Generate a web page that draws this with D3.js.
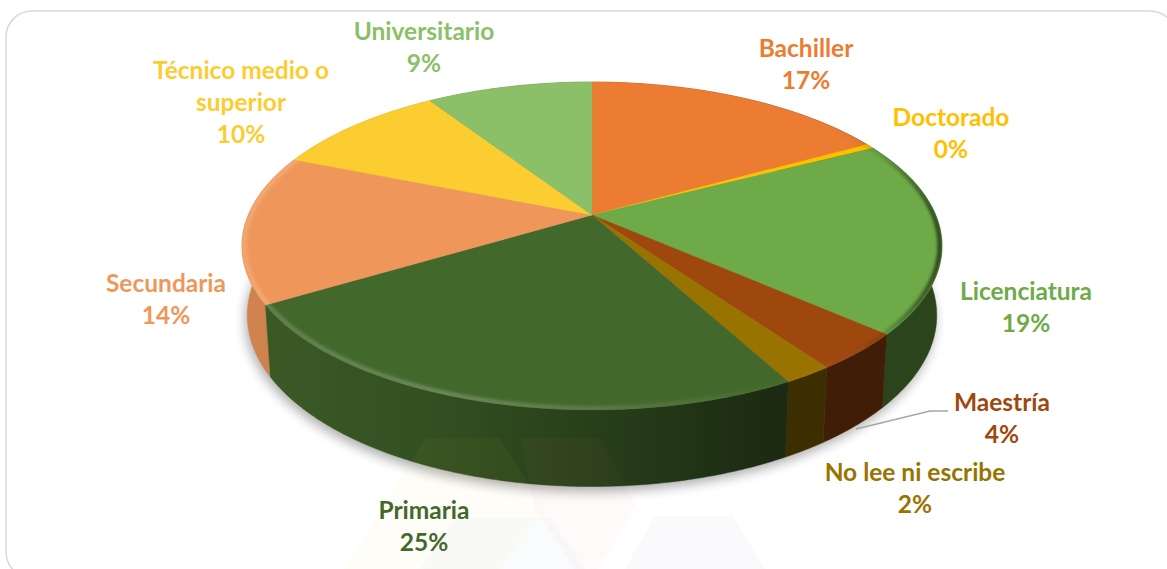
<!DOCTYPE html>
<html><head><meta charset="utf-8">
<script src="https://cdnjs.cloudflare.com/ajax/libs/d3/7.8.5/d3.min.js"></script>
<style>html,body{margin:0;padding:0;background:#fff;overflow:hidden}svg{display:block}text{font-family:Lato,"Open Sans",sans-serif;font-weight:700;font-size:24.5px;text-anchor:middle}</style>
</head><body><svg id="c" width="1167" height="569"></svg>
<script>
// data
const categories = ["Bachiller","Doctorado","Licenciatura","Maestría","No lee ni escribe","Primaria","Secundaria","Técnico medio o superior","Universitario"];
const sliceShares = [16.9,0.5,19.1,3.7,1.9,24.3,14.7,9.7,9.2];
const percentLabels = ["17%","0%","19%","4%","2%","25%","14%","10%","9%"];
const colors = ["#EB7C31","#FFC000","#6EAA47","#9E480E","#997300","#43682B","#EF975A","#FBCD30","#8BBF68"];
// layout
const labelLines = [["Bachiller"],["Doctorado"],["Licenciatura"],["Maestría"],["No lee ni escribe"],["Primaria"],["Secundaria"],["Técnico medio o","superior"],["Universitario"]];
const labelAnchors = [[806,57],[951,126],[1026,300],[1002,411],[915,481],[424,519],[166,292],[241,79],[424,40]];
const lineStep = 32;

const svg = d3.select("#c"), defs = svg.append("defs");
const cx=592, cy=215;
const k=-0.189, S=158.1, R=343.7;
function topPt(a,r=1){const x=r*Math.sin(a),y=-r*Math.cos(a),d=1+k*y;return [cx+R*x/d,cy+S*y/d];}
function botPt(a){const p=topPt(a);return [cx+(p[0]-cx)*0.985, cy+68+(p[1]-cy)*1.044];}
const TAU=Math.PI*2;
const pie=d3.pie().sort(null).value(d=>d)(sliceShares);
const steps=(a0,a1)=>{const n=Math.max(2,Math.ceil((a1-a0)/0.01));return d3.range(n+1).map(i=>a0+(a1-a0)*i/n);};
const line=d3.line();
const full=d3.range(0,TAU,0.01);

// filters
const fs=defs.append("filter").attr("id","shadow").attr("x","-10%").attr("y","-10%").attr("width","120%").attr("height","130%");
fs.append("feGaussianBlur").attr("stdDeviation",6);
const fb=defs.append("filter").attr("id","blur").attr("x","-5%").attr("y","-5%").attr("width","110%").attr("height","110%");
fb.append("feGaussianBlur").attr("stdDeviation",1.6);
defs.append("clipPath").attr("id","topClip").append("path").attr("d",line(full.map(a=>topPt(a)))+"Z");

// shade across the wall
const shade=[[245,.87],[300,.85],[450,.75],[600,.6],[780,.4],[942,.4]];
colors.forEach((c,i)=>{
  const g=defs.append("linearGradient").attr("id","w"+i).attr("gradientUnits","userSpaceOnUse").attr("x1",245).attr("x2",942).attr("y1",0).attr("y2",0);
  const rgb=d3.rgb(c);
  shade.forEach(([x,f])=>g.append("stop").attr("offset",(x-245)/697).attr("stop-color",d3.rgb(rgb.r*f,rgb.g*f,rgb.b*f).formatHex()));
});
const rim=defs.append("linearGradient").attr("id","rim").attr("gradientUnits","userSpaceOnUse").attr("x1",245).attr("x2",942).attr("y1",0).attr("y2",0);
[[245,"#fff",.16],[450,"#fff",.22],[640,"#fff",.1],[790,"#fff",0],[880,"#000",.1],[942,"#000",.6]].forEach(([x,c,o])=>rim.append("stop").attr("offset",(x-245)/697).attr("stop-color",c).attr("stop-opacity",o));

// frame
svg.append("rect").attr("x",6).attr("y",11).attr("width",1170).attr("height",567).attr("rx",26).attr("fill","#fff").attr("stroke","#d9d9d9").attr("stroke-width",1.5);

// shadow
svg.append("path").attr("d",line(full.map(a=>{const p=botPt(a);return [p[0]-2,p[1]+5];}))+"Z").attr("fill","#000").attr("opacity",.32).attr("filter","url(#shadow)");

// walls, back to front
const order=pie.map((d,i)=>i).sort((a,b)=>{const m=d=>-Math.cos((d.startAngle+d.endAngle)/2);return m(pie[a])-m(pie[b]);});
svg.append("g").selectAll("path").data(order).join("path")
 .attr("d",i=>{const A=steps(pie[i].startAngle,pie[i].endAngle);return line(A.map(a=>topPt(a)).concat(A.slice().reverse().map(botPt)))+"Z";})
 .attr("fill",i=>`url(#w${i})`).attr("stroke",i=>`url(#w${i})`).attr("stroke-width",.5);

// top faces
svg.append("g").selectAll("path").data(pie).join("path")
 .attr("d",d=>line([[cx,cy]].concat(steps(d.startAngle,d.endAngle).map(a=>topPt(a))))+"Z")
 .attr("fill",(d,i)=>colors[i]).attr("stroke",(d,i)=>colors[i]).attr("stroke-width",.4);

// bevel
svg.append("g").attr("clip-path","url(#topClip)").append("path")
 .attr("d",line(steps(0.62,5.1).map(a=>topPt(a,0.994))))
 .attr("fill","none").attr("stroke","url(#rim)").attr("stroke-width",5).attr("filter","url(#blur)");

// faint background marks
[["#f2c84b",[[425,438],[500,438],[545,510],[498,569],[345,569]]],
 ["#e8877a",[[520,438],[600,438],[636,505],[598,569],[575,569],[535,510]]],
 ["#7f9fd8",[[455,518],[550,518],[585,569],[420,569]]],
 ["#8a78c4",[[655,516],[733,516],[765,569],[625,569]]]].forEach(([c,p])=>{
   svg.append("path").attr("d",line(p)+"Z").attr("fill",c).attr("opacity",.04);
});

// leader
svg.append("path").attr("d",line([[856,429],[930,411],[948,411]])).attr("fill","none").attr("stroke","#a6a6a6").attr("stroke-width",1.5);

// labels
categories.forEach((c,i)=>{
  const [x,y]=labelAnchors[i];
  const t=svg.append("text").attr("x",x).attr("y",y).attr("fill",colors[i]);
  labelLines[i].concat(percentLabels[i]).forEach((s,j)=>t.append("tspan").attr("x",x).attr("dy",j?lineStep:0).text(s));
});
</script></body></html>
